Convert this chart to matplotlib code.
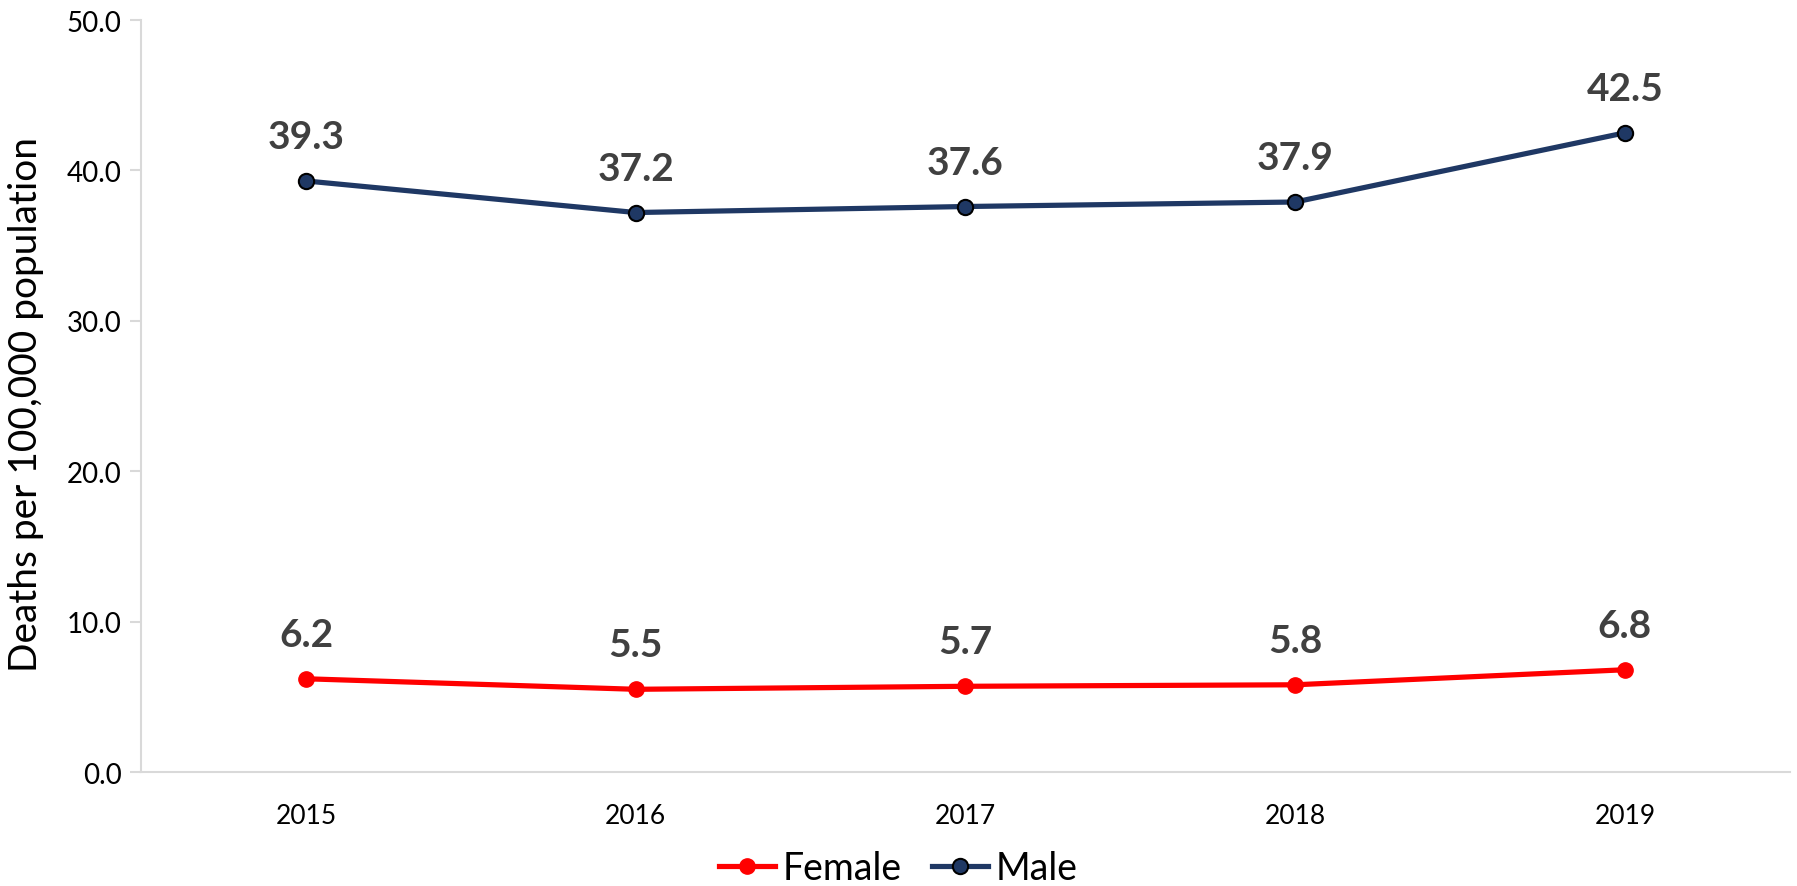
import matplotlib.pyplot as plt

plt.rcParams['font.family'] = ['Lato', 'DejaVu Sans']

# Data
years = ["2015", "2016", "2017", "2018", "2019"]
female = [6.2, 5.5, 5.7, 5.8, 6.8]
male = [39.3, 37.2, 37.6, 37.9, 42.5]

fig = plt.figure(figsize=(17.97, 8.87), dpi=100)
ax = fig.add_axes([0.0785, 0.1285, 0.9175, 0.8478])

x = range(len(years))
ax.plot(x, female, color='#FF0000', linewidth=3.75, marker='o', markersize=11,
        markerfacecolor='#FF0000', markeredgecolor='#FF0000', label='Female')
ax.plot(x, male, color='#1F3864', linewidth=3.75, marker='o', markersize=11,
        markerfacecolor='#1F3864', markeredgecolor='black', markeredgewidth=1.5,
        label='Male')

# Data labels
for xi, v in zip(x, female):
    ax.annotate(f"{v:.1f}", (xi, v), xytext=(0, 32), textcoords='offset points',
                ha='center', va='center', fontsize=28, fontweight='bold', color='#404040')
for xi, v in zip(x, male):
    ax.annotate(f"{v:.1f}", (xi, v), xytext=(0, 32), textcoords='offset points',
                ha='center', va='center', fontsize=28, fontweight='bold', color='#404040')

ax.set_xlim(-0.5, len(years) - 0.5)
ax.set_ylim(0, 50)
ax.set_xticks(list(x))
ax.set_xticklabels(years)
ax.set_yticks([0, 10, 20, 30, 40, 50])
ax.set_yticklabels([f"{t:.1f}" for t in [0, 10, 20, 30, 40, 50]])
ax.tick_params(axis='y', labelsize=20, length=8, width=1.5, color='#D9D9D9', pad=6)
ax.tick_params(axis='x', labelsize=19, length=0, pad=22)

for s in ['top', 'right']:
    ax.spines[s].set_visible(False)
for s in ['left', 'bottom']:
    ax.spines[s].set_color('#D9D9D9')
    ax.spines[s].set_linewidth(1.5)

ax.set_ylabel('Deaths per 100,000 population', fontsize=28)
ax.yaxis.set_label_coords(-0.059, 0.49)

fig.legend(loc='center', bbox_to_anchor=(0.5, 0.02), ncol=2, frameon=False,
           fontsize=27, handlelength=1.5, handletextpad=0.2, columnspacing=0.8,
           borderpad=0.1)

plt.savefig('out.png', dpi=100)
